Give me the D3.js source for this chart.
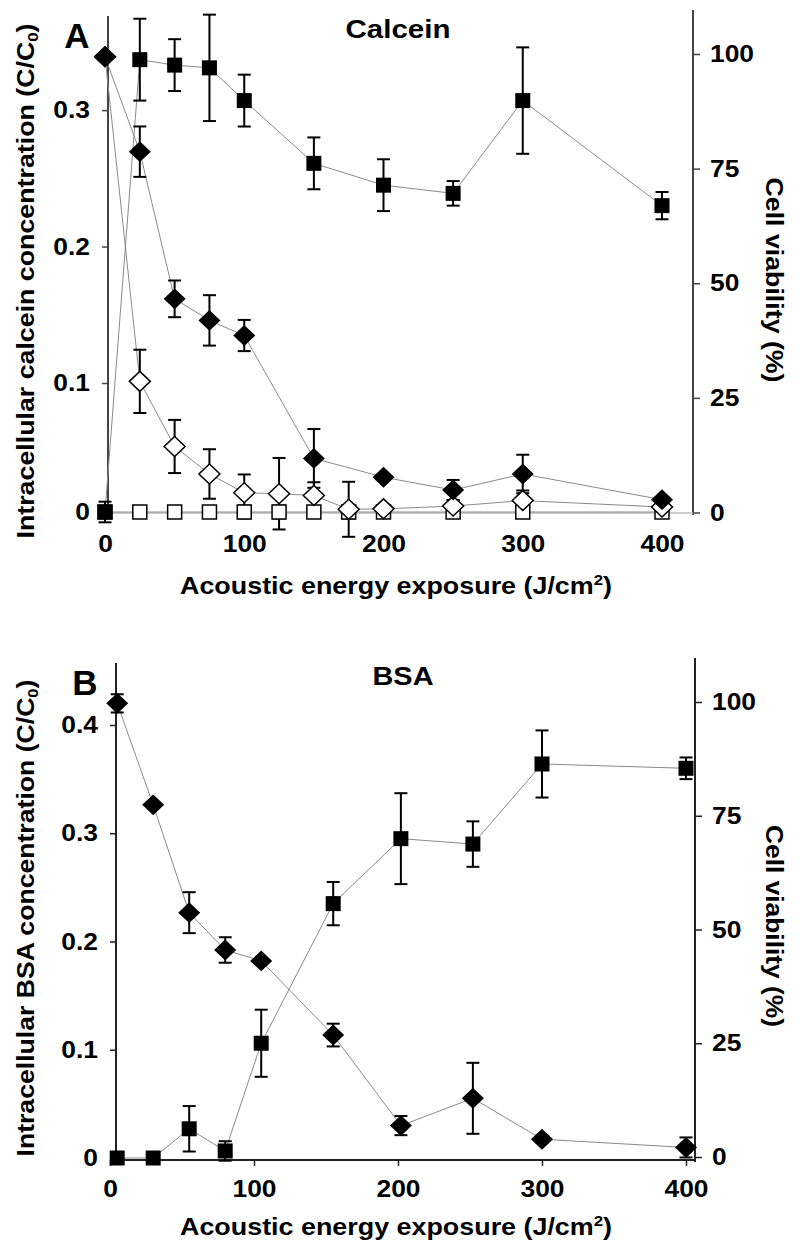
<!DOCTYPE html>
<html>
<head>
<meta charset="utf-8">
<script src="https://cdn.jsdelivr.net/npm/d3@7"></script>
<style>
  html, body { margin: 0; padding: 0; background: #fff; }
  svg { display: block; }
  text { font-family: "Liberation Sans", Arial, Helvetica, sans-serif; font-weight: bold; fill: #000; }
</style>
</head>
<body>
<svg id="chart" width="800" height="1251"></svg>
<script>
// ---------------- DATA ----------------
const xTicks = [0, 100, 200, 300, 400];
const leftTicksA = [0, 0.1, 0.2, 0.3];
const rightTicks = [0, 25, 50, 75, 100];
const leftTicksB = [0, 0.1, 0.2, 0.3, 0.4];

// Panel A (Calcein)
const energyA = [0, 25, 50, 75, 100, 150, 200, 250, 300, 400];
const calceinUptake    = [0, 0.337, 0.333, 0.331, 0.307, 0.261, 0.245, 0.239, 0.307, 0.230];
const calceinUptakeErr = [0.008, 0.030, 0.019, 0.039, 0.019, 0.019, 0.019, 0.009, 0.039, 0.010];
const calceinViab      = [99.4, 78.7, 46.6, 41.9, 38.6, 11.8, 7.7, 4.9, 8.4, 2.8];
const calceinViabErr   = [0, 5.5, 4.0, 5.5, 3.4, 6.4, 0.5, 2.2, 4.2, 0.5];

const energyAOpen = [0, 25, 50, 75, 100, 125, 150, 175, 200, 250, 300, 400];
const calceinViabOpen    = [99.4, 28.6, 14.4, 8.4, 4.3, 4.1, 3.7, 0.7, 0.8, 1.4, 2.6, 1.2];
const calceinViabOpenErr = [0, 6.9, 5.8, 5.4, 4.0, 7.8, 2.9, 6.0, 0.5, 1.3, 2.2, 0.5];
const controlUptake      = [0, 0, 0, 0, 0, 0, 0, 0, 0, 0, 0, 0];
const controlUptakeErr   = [0.004, 0.004, 0.003, 0.003, 0.005, 0.005, 0.004, 0.005, 0.003, 0.004, 0.004, 0.004];

// Panel B (BSA)
const energyB = [5, 30, 55, 80, 105, 155, 202, 252, 300, 400];
const bsaUptake    = [0, 0, 0.027, 0.0065, 0.106, 0.235, 0.295, 0.290, 0.364, 0.360];
const bsaUptakeErr = [0.002, 0.002, 0.021, 0.009, 0.031, 0.020, 0.042, 0.021, 0.031, 0.010];
const bsaViab      = [99.7, 77.4, 53.7, 45.5, 43.1, 26.8, 6.9, 12.9, 3.9, 2.1];
const bsaViabErr   = [2.0, 0, 4.5, 2.8, 0, 2.5, 2.1, 7.8, 0.8, 2.2];

// ---------------- DRAW ----------------
const svg = d3.select("#chart");
const FS = 24;

function seriesPts(xs, ys, es) { return xs.map((x, i) => ({ x, y: ys[i], e: es[i] })); }
function stretch(sel, k) {
  sel.each(function () {
    const w = this.getComputedTextLength();
    d3.select(this).attr("textLength", w * k).attr("lengthAdjust", "spacingAndGlyphs");
  });
}

function drawPanel(p) {
  const g = svg.append("g");
  const x = p.x, yL = p.yL, yR = p.yR;

  const la = g.append("g").attr("transform", `translate(${p.leftX},0)`)
    .call(d3.axisLeft(yL).tickValues(p.leftTicks).tickSize(6).tickPadding(12)
      .tickFormat(d => d === 0 ? "0" : d3.format(".1f")(d)));
  la.select(".domain").remove();
  g.append("line").attr("x1", p.leftX).attr("x2", p.leftX).attr("y1", p.leftTop).attr("y2", p.bottomY)
    .attr("stroke", p.axisColor).attr("stroke-width", 2);

  const ra = g.append("g").attr("transform", `translate(${p.rightX},0)`)
    .call(d3.axisRight(yR).tickValues(rightTicks).tickSize(7).tickPadding(10));
  ra.select(".domain").remove();
  g.append("line").attr("x1", p.rightX).attr("x2", p.rightX).attr("y1", p.rightTop).attr("y2", p.bottomY + 2)
    .attr("stroke", p.axisColor).attr("stroke-width", 2);

  const ba = g.append("g").attr("transform", `translate(0,${p.bottomY})`)
    .call(d3.axisBottom(x).tickValues(xTicks).tickSize(p.xTickSize).tickPadding(p.xTickPad));
  ba.select(".domain").remove();
  g.append("line").attr("x1", p.leftX).attr("x2", p.rightX).attr("y1", p.bottomY).attr("y2", p.bottomY)
    .attr("stroke", p.xAxisColor).attr("stroke-width", p.xAxisWidth);

  [la, ra, ba].forEach(a => {
    a.selectAll("text").attr("font-size", FS).attr("font-family", null).style("font-weight", "bold");
    a.selectAll(".tick line").attr("stroke", p.axisColor).attr("stroke-width", 1.5);
    stretch(a.selectAll("text"), 1.1);
  });
  ba.selectAll(".tick line").attr("stroke", p.xAxisColor);

  p.series.forEach(s => {
    const sc = s.axis === "L" ? yL : yR;
    g.append("path").datum(s.pts)
      .attr("fill", "none").attr("stroke", "#8a8a8a").attr("stroke-width", 1)
      .attr("d", d3.line().x(d => x(d.x)).y(d => sc(d.y)));
  });
  p.series.forEach(s => {
    const sc = s.axis === "L" ? yL : yR;
    const eb = g.append("g");
    s.pts.filter(d => d.e > 0).forEach(d => {
      const cx = x(d.x), y1 = sc(d.y + d.e), y2 = sc(d.y - d.e);
      eb.append("line").attr("x1", cx).attr("x2", cx).attr("y1", y1).attr("y2", y2)
        .attr("stroke", "#000").attr("stroke-width", 2);
      [y1, y2].forEach(yy => eb.append("line").attr("x1", cx - 6.5).attr("x2", cx + 6.5)
        .attr("y1", yy).attr("y2", yy).attr("stroke", "#000").attr("stroke-width", 2));
    });
  });
  p.series.forEach(s => {
    const sc = s.axis === "L" ? yL : yR;
    const mg = g.append("g");
    s.pts.forEach(d => {
      const cx = x(d.x), cy = sc(d.y);
      if (s.shape === "square") {
        const h = s.size / 2;
        mg.append("rect").attr("x", cx - h).attr("y", cy - h).attr("width", s.size).attr("height", s.size)
          .attr("fill", s.fill).attr("stroke", "#000").attr("stroke-width", s.fill === "#fff" ? 1.5 : 0);
      } else {
        const w = s.size / 2, hh = s.size / 2 * 0.95;
        mg.append("path").attr("d", `M${cx},${cy - hh}L${cx + w},${cy}L${cx},${cy + hh}L${cx - w},${cy}Z`)
          .attr("fill", s.fill).attr("stroke", "#000").attr("stroke-width", s.fill === "#fff" ? 1.5 : 0);
      }
    });
  });

  g.append("text").attr("x", p.panelLabel.x).attr("y", p.panelLabel.y).attr("font-size", 35)
    .attr("text-anchor", "middle").text(p.panelLabel.t);
  g.append("text").attr("x", p.title.x).attr("y", p.title.y).attr("font-size", 26)
    .attr("text-anchor", "middle").attr("textLength", p.title.w).attr("lengthAdjust", "spacingAndGlyphs")
    .text(p.title.t);
  const xt = g.append("text").attr("x", p.xTitle.x).attr("y", p.xTitle.y).attr("font-size", FS)
    .attr("text-anchor", "middle").attr("textLength", p.xTitle.w).attr("lengthAdjust", "spacingAndGlyphs");
  xt.append("tspan").text("Acoustic energy exposure (J/cm");
  xt.append("tspan").attr("font-size", 15).attr("dy", -9).text("2");
  xt.append("tspan").attr("dy", 9).text(")");
  const lt = g.append("text").attr("transform", `translate(${p.lTitle.x},${p.lTitle.y}) rotate(-90)`)
    .attr("font-size", FS).attr("text-anchor", "middle").attr("dominant-baseline", "middle")
    .attr("textLength", p.lTitle.w).attr("lengthAdjust", "spacingAndGlyphs");
  lt.append("tspan").text(p.lTitle.t + " (C/C");
  lt.append("tspan").attr("font-size", 15).attr("dy", 6).text("0");
  lt.append("tspan").attr("dy", -6).text(")");
  g.append("text").attr("transform", `translate(${p.rTitle.x},${p.rTitle.y}) rotate(90)`)
    .attr("font-size", FS).attr("text-anchor", "middle").attr("dominant-baseline", "middle")
    .attr("textLength", p.rTitle.w).attr("lengthAdjust", "spacingAndGlyphs")
    .text("Cell viability (%)");
}

drawPanel({
  x: d3.scaleLinear().domain([0, 400]).range([105, 662]),
  yL: d3.scaleLinear().domain([0, 0.1, 0.369]).range([512, 383, 16]),
  yR: d3.scaleLinear().domain([0, 100]).range([512.5, 54]),
  leftTicks: leftTicksA,
  leftX: 108, rightX: 693, leftTop: 16, rightTop: 10, bottomY: 513,
  axisColor: "#444", xAxisColor: "#bbb", xAxisWidth: 1.5, xTickSize: 0, xTickPad: 22,
  series: [
    { pts: seriesPts(energyAOpen, controlUptake, controlUptakeErr), axis: "L", shape: "square", fill: "#fff", size: 14 },
    { pts: seriesPts(energyAOpen, calceinViabOpen, calceinViabOpenErr), axis: "R", shape: "diamond", fill: "#fff", size: 21 },
    { pts: seriesPts(energyA, calceinViab, calceinViabErr), axis: "R", shape: "diamond", fill: "#000", size: 22 },
    { pts: seriesPts(energyA, calceinUptake, calceinUptakeErr), axis: "L", shape: "square", fill: "#000", size: 15 }
  ],
  panelLabel: { t: "A", x: 77, y: 48 },
  title: { t: "Calcein", x: 398, y: 38, w: 105 },
  xTitle: { x: 396, y: 594, w: 432 },
  lTitle: { t: "Intracellular calcein concentration", x: 28, y: 281, w: 515 },
  rTitle: { x: 772, y: 280, w: 205 }
});

drawPanel({
  x: d3.scaleLinear().domain([0, 400]).range([110, 686]),
  yL: d3.scaleLinear().domain([0, 0.4]).range([1158, 725]),
  yR: d3.scaleLinear().domain([0, 100]).range([1157, 702]),
  leftTicks: leftTicksB,
  leftX: 116, rightX: 695, leftTop: 663, rightTop: 658, bottomY: 1160,
  axisColor: "#222", xAxisColor: "#222", xAxisWidth: 2, xTickSize: 6, xTickPad: 14,
  series: [
    { pts: seriesPts(energyB, bsaViab, bsaViabErr), axis: "R", shape: "diamond", fill: "#000", size: 22 },
    { pts: seriesPts(energyB, bsaUptake, bsaUptakeErr), axis: "L", shape: "square", fill: "#000", size: 15 }
  ],
  panelLabel: { t: "B", x: 85, y: 695 },
  title: { t: "BSA", x: 403, y: 685, w: 61 },
  xTitle: { x: 396, y: 1235, w: 432 },
  lTitle: { t: "Intracellular BSA concentration", x: 28, y: 918, w: 477 },
  rTitle: { x: 772, y: 926, w: 202 }
});
</script>
</body>
</html>
